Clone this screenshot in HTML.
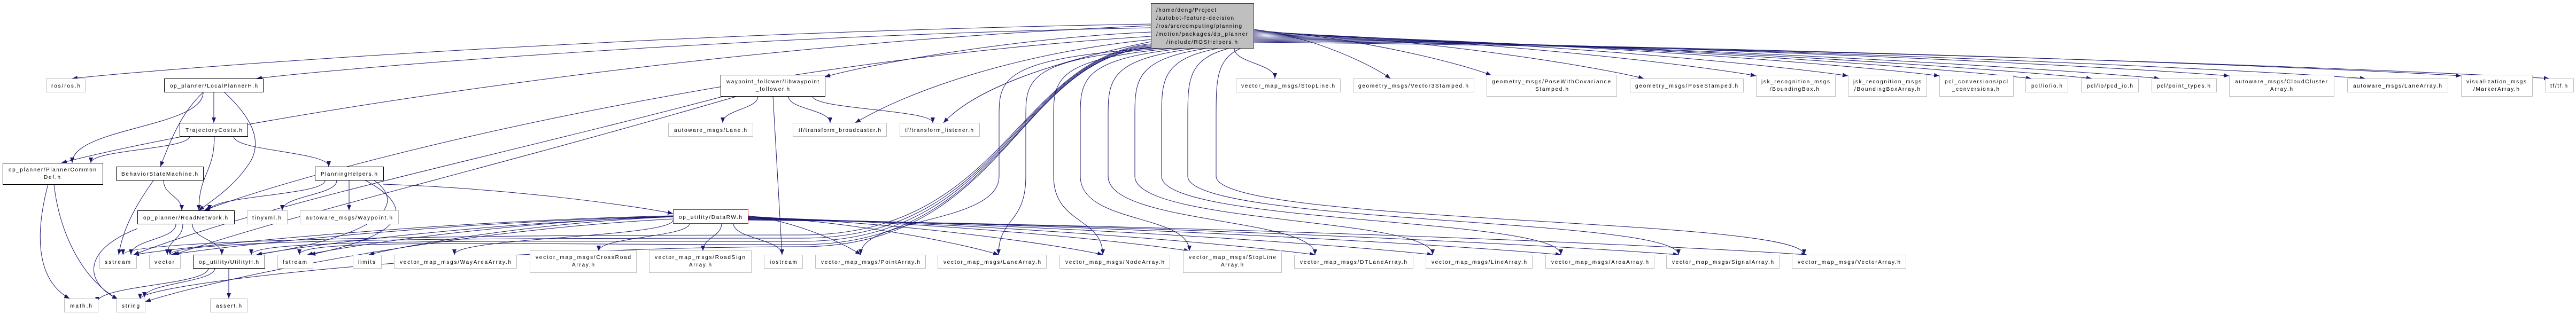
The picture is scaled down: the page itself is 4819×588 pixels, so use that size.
<!DOCTYPE html>
<html><head><meta charset="utf-8"><style>
html,body{margin:0;padding:0;background:#fff;}
svg{display:block}
text{font-family:"Liberation Sans",Arial,sans-serif;font-size:10px;fill:#000}
.g{fill:#fff;stroke:#bfbfbf;stroke-width:1}
.b{fill:#fff;stroke:#000;stroke-width:1}
</style></head><body>
<svg id="s" width="4819" height="588" viewBox="0 0 4819 588" xmlns="http://www.w3.org/2000/svg">
<defs><marker id="a" markerWidth="10" markerHeight="8" refX="10" refY="4" orient="auto" markerUnits="userSpaceOnUse"><path d="M0,0 L10,4 L0,8 z" fill="#191970"/></marker></defs>
<g id="edges" fill="none" stroke="#191970" stroke-width="1"></g>
<g id="nodes">
<rect x="2153.5" y="6.5" width="192" height="84" fill="#bfbfbf" stroke="#404040"/>
<text x="2163" y="22" textLength="112">/home/deng/Project</text>
<text x="2163" y="37" textLength="145">/autobot-feature-decision</text>
<text x="2163" y="52" textLength="160">/ros/src/computing/planning</text>
<text x="2163" y="67" textLength="171">/motion/packages/dp_planner</text>
<text x="2182" y="82" textLength="133">/include/ROSHelpers.h</text>

<rect class="g" x="86.5" y="147.5" width="73" height="25"/><text x="96" y="164" textLength="54">ros/ros.h</text>
<rect class="b" x="307.5" y="147.5" width="185" height="25"/><text x="318" y="164" textLength="164">op_planner/LocalPlannerH.h</text>
<rect class="b" x="1348.5" y="140.5" width="195" height="40"/><text x="1359" y="156" textLength="173">waypoint_follower/libwaypoint</text><text x="1414" y="170" textLength="63">_follower.h</text>
<rect class="g" x="2312.5" y="147.5" width="195" height="25"/><text x="2322" y="164" textLength="175">vector_map_msgs/StopLine.h</text>
<rect class="g" x="2531.5" y="147.5" width="226" height="25"/><text x="2541" y="164" textLength="206">geometry_msgs/Vector3Stamped.h</text>
<rect class="g" x="2781.5" y="140.5" width="243" height="40"/><text x="2791" y="156" textLength="222">geometry_msgs/PoseWithCovariance</text><text x="2872" y="170" textLength="62">Stamped.h</text>
<rect class="g" x="3049.5" y="147.5" width="212" height="25"/><text x="3059" y="164" textLength="192">geometry_msgs/PoseStamped.h</text>
<rect class="g" x="3285.5" y="140.5" width="148" height="40"/><text x="3295" y="156" textLength="128">jsk_recognition_msgs</text><text x="3311" y="170" textLength="92">/BoundingBox.h</text>
<rect class="g" x="3457.5" y="140.5" width="147" height="40"/><text x="3467" y="156" textLength="127">jsk_recognition_msgs</text><text x="3469" y="170" textLength="123">/BoundingBoxArray.h</text>
<rect class="g" x="3628.5" y="140.5" width="138" height="40"/><text x="3638" y="156" textLength="118">pcl_conversions/pcl</text><text x="3652" y="170" textLength="88">_conversions.h</text>
<rect class="g" x="3789.5" y="147.5" width="79" height="25"/><text x="3800" y="164" textLength="58">pcl/io/io.h</text>
<rect class="g" x="3893.5" y="147.5" width="107" height="25"/><text x="3904" y="164" textLength="86">pcl/io/pcd_io.h</text>
<rect class="g" x="4025.5" y="147.5" width="121" height="25"/><text x="4035" y="164" textLength="100">pcl/point_types.h</text>
<rect class="g" x="4170.5" y="140.5" width="196" height="40"/><text x="4181" y="156" textLength="173">autoware_msgs/CloudCluster</text><text x="4247" y="170" textLength="42">Array.h</text>
<rect class="g" x="4391.5" y="147.5" width="188" height="25"/><text x="4402" y="164" textLength="166">autoware_msgs/LaneArray.h</text>
<rect class="g" x="4604.5" y="140.5" width="133" height="40"/><text x="4614" y="156" textLength="112">visualization_msgs</text><text x="4627" y="170" textLength="86">/MarkerArray.h</text>
<rect class="g" x="4761.5" y="147.5" width="53" height="25"/><text x="4771" y="164" textLength="32">tf/tf.h</text>

<rect class="b" x="336.5" y="230.5" width="127" height="25"/><text x="347" y="247" textLength="106">TrajectoryCosts.h</text>
<rect class="g" x="1250.5" y="230.5" width="158" height="25"/><text x="1261" y="247" textLength="136">autoware_msgs/Lane.h</text>
<rect class="g" x="1483.5" y="230.5" width="175" height="25"/><text x="1494" y="247" textLength="154">tf/transform_broadcaster.h</text>
<rect class="g" x="1683.5" y="230.5" width="149" height="25"/><text x="1693" y="247" textLength="128">tf/transform_listener.h</text>

<rect class="b" x="5.5" y="305.5" width="187" height="40"/><text x="16" y="321" textLength="164">op_planner/PlannerCommon</text><text x="82" y="335" textLength="31">Def.h</text>
<rect class="b" x="217.5" y="312.5" width="163" height="25"/><text x="227" y="329" textLength="143">BehaviorStateMachine.h</text>
<rect class="b" x="589.5" y="312.5" width="128" height="25"/><text x="600" y="329" textLength="106">PlanningHelpers.h</text>

<rect class="b" x="257.5" y="394.5" width="181" height="25"/><text x="268" y="411" textLength="158">op_planner/RoadNetwork.h</text>
<rect class="g" x="462.5" y="394.5" width="75" height="25"/><text x="472" y="411" textLength="54">tinyxml.h</text>
<rect class="g" x="561.5" y="394.5" width="184" height="25"/><text x="572" y="411" textLength="162">autoware_msgs/Waypoint.h</text>
<rect x="1259.5" y="392.5" width="140" height="26" fill="#fff" stroke="#ff0000"/><text x="1270" y="410" textLength="118">op_utility/DataRW.h</text>

<rect class="g" x="186.5" y="477.5" width="69" height="25"/><text x="196" y="494" textLength="48">sstream</text>
<rect class="g" x="279.5" y="477.5" width="58" height="25"/><text x="289" y="494" textLength="37">vector</text>
<rect class="b" x="361.5" y="477.5" width="134" height="25"/><text x="372" y="494" textLength="112">op_utility/UtilityH.h</text>
<rect class="g" x="519.5" y="477.5" width="66" height="25"/><text x="529" y="494" textLength="45">fstream</text>
<rect class="g" x="660.5" y="477.5" width="53" height="25"/><text x="670" y="494" textLength="32">limits</text>
<rect class="g" x="737.5" y="477.5" width="229" height="25"/><text x="748" y="494" textLength="208">vector_map_msgs/WayAreaArray.h</text>
<rect class="g" x="991.5" y="469.5" width="199" height="41"/><text x="1002" y="485" textLength="178">vector_map_msgs/CrossRoad</text><text x="1070" y="499" textLength="42">Array.h</text>
<rect class="g" x="1214.5" y="469.5" width="191" height="41"/><text x="1225" y="485" textLength="169">vector_map_msgs/RoadSign</text><text x="1289" y="499" textLength="42">Array.h</text>
<rect class="g" x="1429.5" y="477.5" width="72" height="25"/><text x="1440" y="494" textLength="51">iostream</text>
<rect class="g" x="1525.5" y="477.5" width="206" height="25"/><text x="1536" y="494" textLength="185">vector_map_msgs/PointArray.h</text>
<rect class="g" x="1754.5" y="477.5" width="203" height="25"/><text x="1765" y="494" textLength="182">vector_map_msgs/LaneArray.h</text>
<rect class="g" x="1982.5" y="477.5" width="206" height="25"/><text x="1993" y="494" textLength="185">vector_map_msgs/NodeArray.h</text>
<rect class="g" x="2213.5" y="469.5" width="184" height="41"/><text x="2224" y="485" textLength="163">vector_map_msgs/StopLine</text><text x="2284" y="499" textLength="42">Array.h</text>
<rect class="g" x="2421.5" y="477.5" width="222" height="25"/><text x="2432" y="494" textLength="200">vector_map_msgs/DTLaneArray.h</text>
<rect class="g" x="2667.5" y="477.5" width="199" height="25"/><text x="2678" y="494" textLength="178">vector_map_msgs/LineArray.h</text>
<rect class="g" x="2891.5" y="477.5" width="203" height="25"/><text x="2902" y="494" textLength="182">vector_map_msgs/AreaArray.h</text>
<rect class="g" x="3117.5" y="477.5" width="211" height="25"/><text x="3128" y="494" textLength="190">vector_map_msgs/SignalArray.h</text>
<rect class="g" x="3352.5" y="477.5" width="213" height="25"/><text x="3363" y="494" textLength="192">vector_map_msgs/VectorArray.h</text>

<rect class="g" x="120.5" y="559.5" width="63" height="25"/><text x="131" y="576" textLength="41">math.h</text>
<rect class="g" x="217.5" y="559.5" width="54" height="25"/><text x="228" y="576" textLength="33">string</text>
<rect class="g" x="393.5" y="559.5" width="69" height="25"/><text x="404" y="576" textLength="48">assert.h</text>
</g>
</svg>
<script>
var g=document.getElementById('edges');
function P(d){var p=document.createElementNS('http://www.w3.org/2000/svg','path');p.setAttribute('d',d);p.setAttribute('marker-end','url(#a)');g.appendChild(p);}
function V(sx,sy,tx,ty){var m=(ty-sy)*0.5;P('M'+sx+','+sy+' C'+sx+','+(sy+m)+' '+tx+','+(ty-m)+' '+tx+','+ty);}
function H(sx,sy,tx,ty){var dx=tx-sx;P('M'+sx+','+sy+' C'+(sx+dx*0.45)+','+(sy+(ty-sy)*0.15)+' '+(tx-dx*0.12)+','+(ty-(ty-sy)*0.25)+' '+tx+','+ty);}
function D(vx,tx,ty){var sx=2160+(vx-1869)*0.4;P('M'+sx+',90 C'+vx+',110 '+vx+',150 '+vx+',220 L'+vx+',330 C'+vx+',420 '+tx+','+(ty-70)+' '+tx+','+ty);}
function L(sy,by,tx,ty){P('M2153,'+sy+' C1900,110 1880,'+by+' 1500,'+by+' C900,'+by+' '+tx+','+(ty-30)+' '+tx+','+ty);}
// root left
H(2153,45,135,147);H(2153,48,115,305);H(2153,52,480,147);H(2153,60,1543,144);
H(2153,68,382,394);
P('M2153,74 C1900,100 1700,170 1600,230');P('M2153,78 C1950,120 1820,170 1765,230');
L(82,440,230,477);L(84,446,318,477);L(86,452,470,477);L(88,458,560,477);L(89,462,262,560);
// root bottom drops
D(1869,1610,477);D(1919,1868,477);D(1971,2063,477);D(2021,2225,470);D(2073,2460,477);D(2123,2680,477);D(2173,2920,477);D(2222,3140,477);D(2275,3375,477);
// root right
V(2309,90,2385,147);H(2345,55,2601,147);H(2345,57,2790,141);H(2345,59,3075,147);H(2345,61,3285,142);
H(2345,63,3457,142);H(2345,65,3628,142);H(2345,67,3800,147);H(2345,69,3913,147);H(2345,71,4040,147);
H(2345,73,4170,142);H(2345,75,4425,147);H(2345,77,4604,142);H(2345,79,4769,147);
// local planner
V(400,173,400,230);V(380,173,135,305);P('M420,173 C470,220 490,260 470,300 C440,350 390,380 372,394');P('M380,173 C340,210 320,260 300,312');
// traj
V(355,255,170,305);V(401,255,372,394);V(437,255,615,312);
// pcd
P('M90,345 C70,420 60,520 130,559');P('M101,345 C110,430 150,520 220,560');
// bsm
P('M287,338 C250,390 230,430 222,477');V(306,338,340,394);
// planning helpers
V(608,338,392,394);V(630,338,528,394);V(653,338,653,394);H(717,345,1259,400);P('M684,338 C780,390 760,440 580,477');P('M700,338 C760,380 720,440 480,477');
// road network
V(329,420,245,477);V(342,420,313,477);V(360,420,415,477);P('M257,428 C150,470 160,530 220,560');
// utility
V(390,502,182,566);V(402,502,270,557);V(428,502,428,559);
// waypoint follower
V(1418,180,1352,230);V(1475,180,1553,230);V(1520,180,1745,230);P('M1446,180 L1463,477');
P('M1355,180 C900,300 500,380 250,477');P('M1380,180 C900,320 550,400 325,477');
// DataRW
var R=[[1610,477],[1868,477],[2063,477],[2225,470],[2460,477],[2680,477],[2920,477],[3140,477],[3380,477]];
for(var i=0;i<R.length;i++)H(1399,404+i,R[i][0],R[i][1]);
V(1372,418,1463,477);V(1350,418,1315,470);V(1290,418,1120,470);V(1259,412,850,477);
H(1259,406,690,477);H(1259,405,575,477);H(1259,404,250,477);H(1259,405,320,477);H(1259,406,480,477);H(1259,410,272,565);
</script>
</body></html>
